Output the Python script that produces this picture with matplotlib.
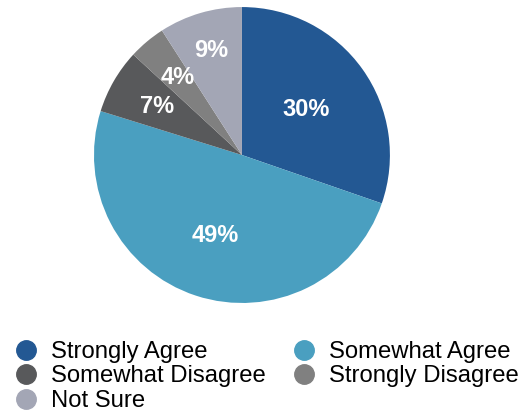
import matplotlib.pyplot as plt
from matplotlib.lines import Line2D
import numpy as np

labels = ['Strongly Agree', 'Somewhat Agree', 'Somewhat Disagree', 'Strongly Disagree', 'Not Sure']
values = [30, 49, 7, 4, 9]
colors = ['#235893', '#4a9fc0', '#58595b', '#808080', '#a3a6b5']
label_dist = [0.53, 0.575, 0.66, 0.68, 0.735]

plt.rcParams['font.family'] = ['Liberation Sans', 'DejaVu Sans']

fig = plt.figure(figsize=(5.21, 4.13), dpi=100)
ax = fig.add_axes([0.1804, 0.2663, 0.568, 0.7167])

wedges, texts, autotexts = ax.pie(values, colors=colors, startangle=90, counterclock=False,
                                  autopct='%d%%', pctdistance=0.6,
                                  wedgeprops=dict(linewidth=0),
                                  textprops=dict(color='white', fontsize=17, fontweight='bold'))
ax.set_xlim(-1, 1)
ax.set_ylim(-1, 1)
ax.set_aspect('equal')

# place each percentage label along its wedge's middle angle
for w, t, d in zip(wedges, autotexts, label_dist):
    ang = np.deg2rad((w.theta1 + w.theta2) / 2)
    t.set_position((d * np.cos(ang), d * np.sin(ang)))
    t.set_ha('center')
    t.set_va('center')

# legend is filled column by column, so reorder to read row by row
order = [0, 2, 4, 1, 3]
handles = [Line2D([], [], marker='o', linestyle='none', markersize=14,
                  markerfacecolor=colors[i], markeredgecolor=colors[i]) for i in order]
fig.legend(handles, [labels[i] for i in order], ncol=2, loc='upper left',
           bbox_to_anchor=(0.0, 0.203), frameon=False, fontsize=17.2,
           borderpad=0, labelspacing=0.1, handletextpad=0.45, columnspacing=0.98,
           handlelength=1.2)

fig.savefig('out.png', dpi=100)
